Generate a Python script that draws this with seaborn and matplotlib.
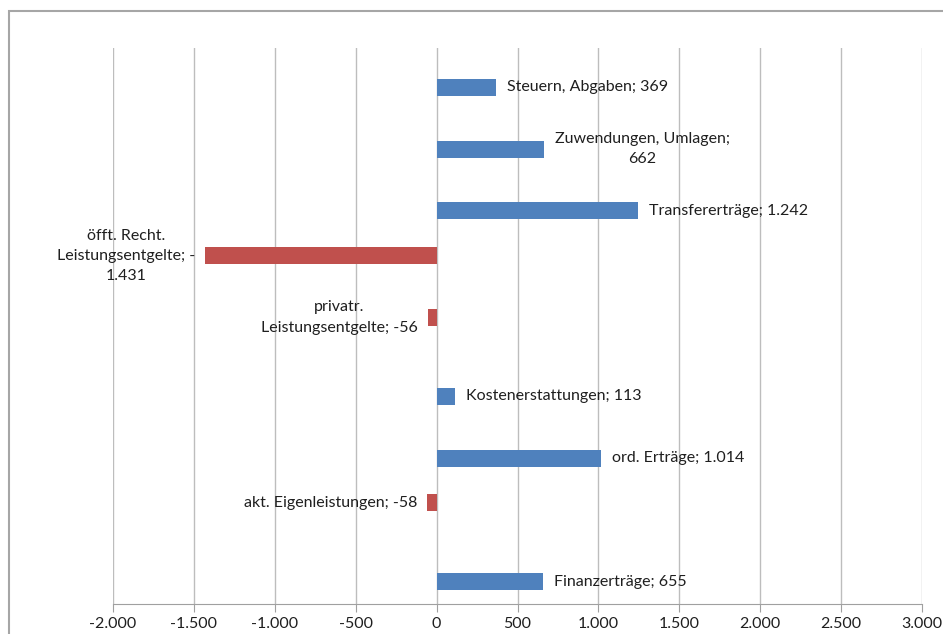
import seaborn as sns
import pandas as pd
import matplotlib.pyplot as plt
from matplotlib.patches import Rectangle
from matplotlib.ticker import FuncFormatter, MultipleLocator

# data (in TEUR)
categories = ["Steuern, Abgaben", "Zuwendungen, Umlagen", "Transfererträge",
              "öfft. Recht. Leistungsentgelte", "privatr. Leistungsentgelte",
              "Kostenerstattungen", "ord. Erträge", "akt. Eigenleistungen",
              "Finanzerträge"]
values = [369, 662, 1242, -1431, -56, 113, 1014, -58, 655]
labels = ["Steuern, Abgaben; 369", "Zuwendungen, Umlagen;\n662",
          "Transfererträge; 1.242", "öfft. Recht.\nLeistungsentgelte; -\n1.431",
          "privatr.\nLeistungsentgelte; -56", "Kostenerstattungen; 113",
          "ord. Erträge; 1.014", "akt. Eigenleistungen; -58",
          "Finanzerträge; 655"]
series = ["Rückgang" if v < 0 else "Zuwachs" for v in values]
series_order = ["Rückgang", "Zuwachs"]
palette = {"Rückgang": "#C0504D", "Zuwachs": "#4F81BD"}

df = pd.DataFrame({"Kategorie": categories, "Wert": values, "Reihe": series})

plt.rcParams["font.family"] = ["Lato", "DejaVu Sans"]
txt_color = "#1f1f1f"

fig, ax = plt.subplots(figsize=(9.43, 6.34), dpi=100)
fig.subplots_adjust(left=113/943, right=922/943, bottom=30/634, top=1-48/634)

sns.barplot(data=df, y="Kategorie", x="Wert", hue="Reihe", hue_order=series_order,
            order=categories, palette=palette, width=0.55, dodge=True,
            legend=False, saturation=1, ax=ax, zorder=3)

ax.set_xlim(-2000, 3000)
ax.set_ylim(len(categories) - 0.5, -0.5)
ax.xaxis.set_major_locator(MultipleLocator(500))
ax.xaxis.set_major_formatter(FuncFormatter(lambda v, p: f"{int(v):,}".replace(",", ".")))
ax.grid(axis="x", color="#bdbdbd", lw=1, zorder=0)
ax.grid(axis="y", visible=False)
ax.set_axisbelow(True)
ax.set_xlabel("")
ax.set_ylabel("")
ax.set_yticks([])
for s in ["top", "right", "left"]:
    ax.spines[s].set_visible(False)
ax.spines["bottom"].set_color("#a0a0a0")
ax.tick_params(axis="x", direction="out", length=6, color="#a0a0a0",
               labelsize=11.5, labelcolor=txt_color, pad=3)

# data labels next to bar ends
lab_map = dict(zip(values, labels))
for cont in ax.containers:
    for bar in cont:
        w = bar.get_width()
        if pd.isna(w) or w not in lab_map:
            continue
        yc = bar.get_y() + bar.get_height() / 2
        ax.annotate(lab_map[w], xy=(w, yc), xytext=(8 if w > 0 else -7, 0),
                    textcoords="offset points", va="center",
                    ha="left" if w > 0 else "right", multialignment="center",
                    fontsize=11.5, color=txt_color, linespacing=1.55)

# outer chart frame
fig.patches.append(Rectangle((9/943, -0.1), 1.5, 1 - 11/634 + 0.1,
                             transform=fig.transFigure, fill=False,
                             edgecolor="#a6a6a6", lw=1.5))

plt.savefig("out.png", dpi=100)
